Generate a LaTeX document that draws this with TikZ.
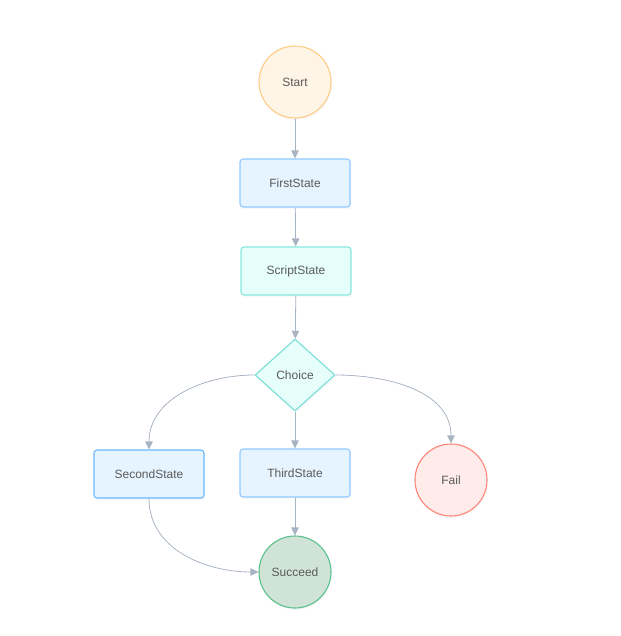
\documentclass[tikz,border=0pt]{standalone}
\usepackage{fontspec}
\setmainfont{Liberation Sans}
\usetikzlibrary{shapes.geometric,arrows.meta,shadows}
\definecolor{edgegray}{HTML}{A9B4C3}
\definecolor{txtgray}{HTML}{5A5A5A}
\definecolor{startfill}{HTML}{FFF5E6}
\definecolor{startline}{HTML}{FFCB85}
\definecolor{taskfill}{HTML}{E6F4FF}
\definecolor{taskline}{HTML}{91CAFF}
\definecolor{taskline2}{HTML}{69B8FF}
\definecolor{scriptfill}{HTML}{E6FFFB}
\definecolor{scriptline}{HTML}{87E8DE}
\definecolor{failfill}{HTML}{FFEBEA}
\definecolor{failline}{HTML}{FF8577}
\definecolor{okfill}{HTML}{CFE4D6}
\definecolor{okline}{HTML}{5CC08A}
\begin{document}
\begin{tikzpicture}[x=1pt,y=1pt,line join=round,
	every node/.style={font=\fontsize{12}{14}\selectfont,text=txtgray,line width=1.1pt,
		drop shadow={opacity=0.06,shadow xshift=1pt,shadow yshift=-2pt}},
	endstate/.style={circle,minimum size=72pt,inner sep=0pt},
	task/.style={rectangle,rounded corners=3pt,minimum width=110pt,minimum height=48pt,
		fill=taskfill,draw=taskline},
	choicebox/.style={diamond,minimum width=80pt,minimum height=72pt,inner sep=0pt,
		fill=scriptfill,draw=scriptline!90!teal},
	flow/.style={draw=edgegray,line width=0.8pt,-{Triangle[length=8pt,width=7.5pt]}}]
	\useasboundingbox (0,0) rectangle (620,-636);
	\node[endstate,fill=startfill,draw=startline] (start) at (295,-82) {Start};
	\node[task] (first) at (295,-183) {FirstState};
	\node[task,fill=scriptfill,draw=scriptline] (script) at (296,-271) {ScriptState};
	\node[choicebox] (choice) at (295,-375) {Choice};
	\node[task,draw=taskline2] (second) at (149,-474) {SecondState};
	\node[task] (third) at (295,-473) {ThirdState};
	\node[endstate,fill=failfill,draw=failline] (fail) at (451,-480) {Fail};
	\node[endstate,fill=okfill,draw=okline] (succeed) at (295,-572) {Succeed};
	\draw[flow] (start) -- (first);
	\draw[flow] (first) -- (script);
	\draw[flow] (script) -- (choice);
	\draw[flow] (choice) -- (third);
	\draw[flow] (third) -- (succeed);
	\draw[flow] (choice.west) to[out=180,in=90] (second.north);
	\draw[flow] (choice.east) to[out=0,in=90] (fail.north);
	\draw[flow] (second.south) to[out=-90,in=180] (succeed.west);
\end{tikzpicture}
\end{document}
